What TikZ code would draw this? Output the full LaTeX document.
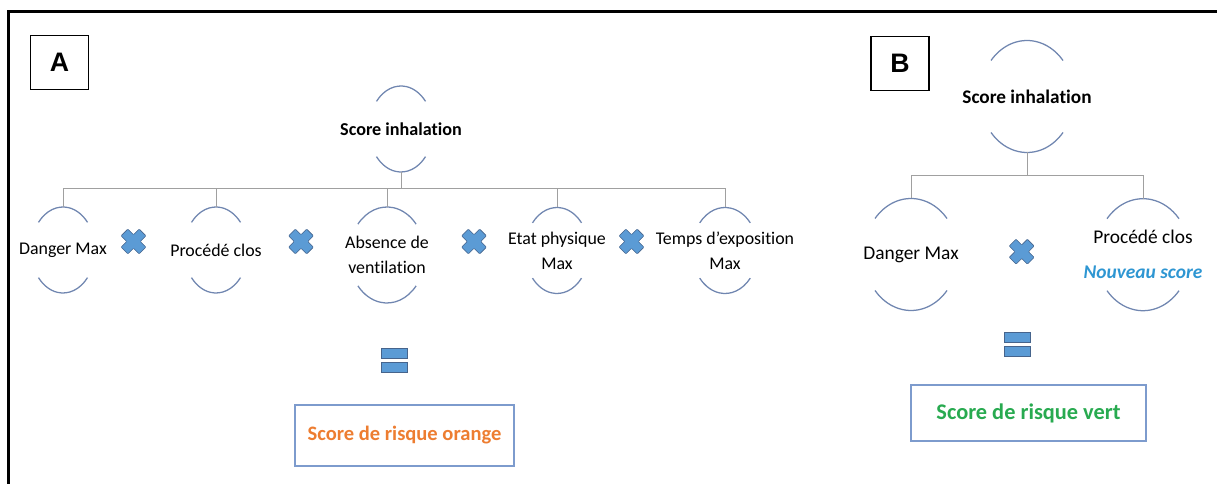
\documentclass[tikz,border=0pt]{standalone}
\usepackage{fontspec}
\setmainfont[Ligatures=NoCommon]{Carlito}
\newfontfamily\arialfont{Liberation Sans}
\usepackage{tikz}
\usetikzlibrary{calc}
\definecolor{arcblue}{RGB}{112,134,176}
\definecolor{treegray}{RGB}{160,160,160}
\definecolor{signblue}{RGB}{91,155,213}
\definecolor{signedge}{RGB}{70,100,140}
\definecolor{boxblue}{RGB}{125,155,205}
\definecolor{riskorange}{RGB}{237,125,49}
\definecolor{riskgreen}{RGB}{40,170,80}
\definecolor{newblue}{RGB}{46,150,210}
\tikzset{
	leafa/.style={align=center, font=\fontsize{12.7}{17.8}\selectfont},
	leafb/.style={align=center, font=\fontsize{13.8}{17}\selectfont},
	roota/.style={font=\fontsize{12.9}{15}\selectfont\bfseries},
	rootb/.style={font=\fontsize{13.7}{16}\selectfont\bfseries},
	arcline/.style={draw=arcblue, line width=0.9pt},
	tree/.style={draw=treegray, line width=0.7pt},
	frame/.style={draw=black, line width=1.9pt},
	letterbox/.style={draw, line width=0.9pt, minimum width=1.45cm, minimum height=1.35cm, font=\arialfont\bfseries\fontsize{19}{22}\selectfont},
	resultbox/.style={draw=boxblue, line width=0.9pt, font=\fontsize{14.6}{17}\selectfont\bfseries},
	mult/.pic={
		\path[draw=signedge, fill=signblue, line width=0.4pt, rotate=45, rounded corners=0.5pt]
			(-4.8,-12.8) -- (4.8,-12.8) -- (4.8,-4.8) -- (12.8,-4.8) -- (12.8,4.8) -- (4.8,4.8)
			-- (4.8,12.8) -- (-4.8,12.8) -- (-4.8,4.8) -- (-12.8,4.8) -- (-12.8,-4.8) -- (-4.8,-4.8) -- cycle;
	},
	equal/.pic={
		\path[draw=signedge, fill=signblue, line width=0.6pt] (-13,-12) rectangle (13,-2);
		\path[draw=signedge, fill=signblue, line width=0.6pt] (-13,2) rectangle (13,12);
	},
}
\newcommand{\halfarcs}[3]{
	\draw[arcline] (#1.center) ++(220:#2 and #3) arc[start angle=220, end angle=320, x radius=#2, y radius=#3];
	\draw[arcline] (#1.center) ++(40:#2 and #3) arc[start angle=40, end angle=140, x radius=#2, y radius=#3];
	\coordinate (#1-top) at ($(#1.center)+(0,-#3)$);
	\coordinate (#1-bot) at ($(#1.center)+(0,#3)$);
}

\begin{document}
\begin{tikzpicture}[x=0.025cm, y=-0.025cm]
	\useasboundingbox (0,0) rectangle (1217,484);
	\draw[frame] (8.5,484) -- (8.5,11.3) -- (1217,11.3);

	\node[letterbox] (LBLA) at (59.5,62.5) {A};
	\node[letterbox] (LBLB) at (900,63.5) {B};

	\node[roota] (SCOREA) at (401,129) {Score inhalation};
	\node[leafa] (DANGERA) at (63,250) {Danger Max};
	\node[leafa] (PROCA) at (216,250) {Procédé clos};
	\node[leafa] (VENTA) at (387,255) {Absence de\\ventilation};
	\node[leafa] (ETATA) at (557,250.5) {Etat physique\\Max};
	\node[leafa] (TEMPSA) at (725,250.5) {Temps d’exposition\\Max};

	\halfarcs{SCOREA}{32}{43}
	\halfarcs{DANGERA}{32}{43}
	\halfarcs{PROCA}{32}{43}
	\halfarcs{VENTA}{38}{48}
	\halfarcs{ETATA}{32}{43}
	\halfarcs{TEMPSA}{33}{43}

	\foreach \n in {DANGERA,PROCA,VENTA,ETATA,TEMPSA}
		\draw[tree] (SCOREA-bot) -- ++(0,16) -| (\n-top);
	\foreach \x in {133.5,301,474,631.5}
		\pic at (\x,241.5) {mult};

	\pic at (394,360) {equal};
	\node[resultbox, text=riskorange, minimum width=5.475cm, minimum height=1.525cm] (RISKA) at (404.5,435.5) {Score de risque orange};

	\node[rootb] (SCOREB) at (1027,96.5) {Score inhalation};
	\node[leafb] (DANGERB) at (911,254.5) {Danger Max};
	\node[leafb] (PROCB) at (1143,254.7) {Procédé clos\\[8pt]{\color{newblue}\bfseries\itshape Nouveau score}};

	\halfarcs{SCOREB}{47}{56}
	\halfarcs{DANGERB}{47}{56}
	\halfarcs{PROCB}{47}{56}

	\foreach \n in {DANGERB,PROCB}
		\draw[tree] (SCOREB-bot) -- ++(0,23) -| (\n-top);
	\pic at (1021.7,251.7) {mult};

	\pic at (1017,344.5) {equal};
	\node[resultbox, text=riskgreen, font=\fontsize{15.9}{18}\selectfont\bfseries, minimum width=5.875cm, minimum height=1.4cm] (RISKB) at (1028.5,413) {Score de risque vert};
\end{tikzpicture}
\end{document}
